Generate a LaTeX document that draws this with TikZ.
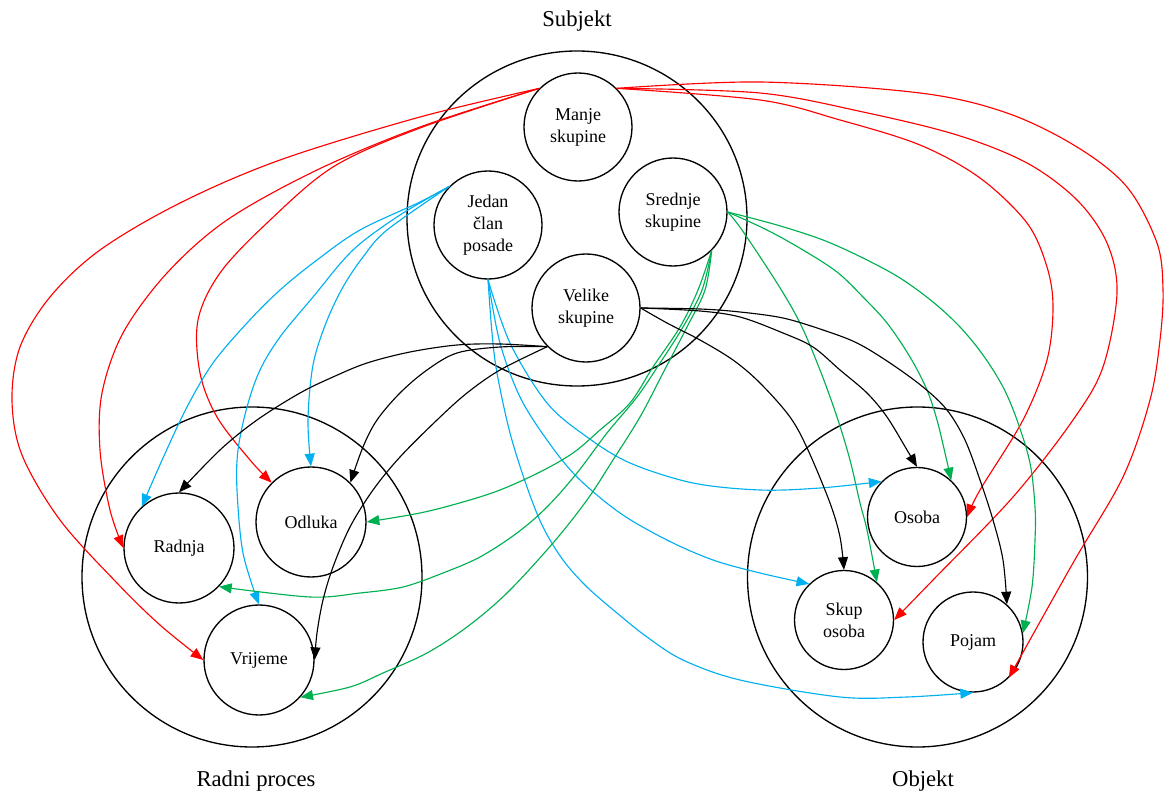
\documentclass[tikz,border=0pt]{standalone}
\usepackage{fontspec}
\setmainfont{Liberation Serif}
\usetikzlibrary{arrows.meta,shapes.geometric}
\definecolor{eRed}{RGB}{255,0,0}
\definecolor{eBlue}{RGB}{0,176,240}
\definecolor{eGreen}{RGB}{0,176,80}
\begin{document}
\begin{tikzpicture}[x=0.75pt,y=-0.75pt,
  bigc/.style={draw,line width=1pt,inner sep=0pt},
  sm/.style={draw,circle,line width=1pt,inner sep=0pt,align=center,font=\fontsize{13.5}{16.5}\selectfont},
  lab/.style={font=\fontsize{17}{20}\selectfont,anchor=base},
  edge/.style={line width=0.85pt,-{Triangle[length=9.5pt,width=7.5pt]}},
  redE/.style={edge,draw=eRed},
  blueE/.style={edge,draw=eBlue},
  greenE/.style={edge,draw=eGreen},
  blackE/.style={edge,draw=black},
  sp/.style={smooth,tension=0.55}
]
\useasboundingbox (0,0) rectangle (1164,798);

% clusters
\node[bigc,ellipse,minimum width=255pt,minimum height=251.25pt] (subj) at (577,218.5) {};
\node[bigc,circle,minimum size=255pt] (radni) at (252,577) {};
\node[bigc,circle,minimum size=255pt] (obj) at (917.5,577) {};

\node[lab] (lsubj) at (577,27) {Subjekt};
\node[lab] (lradni) at (256,786.5) {Radni proces};
\node[lab] (lobj) at (923,786.5) {Objekt};

% nodes
\node[sm,minimum size=81pt] (manje) at (578,127) {Manje\\skupine};
\node[sm,minimum size=81pt] (jedan) at (488,225) {Jedan\\član\\posade};
\node[sm,minimum size=81pt] (srednje) at (673,212) {Srednje\\skupine};
\node[sm,minimum size=81pt] (velike) at (586,308) {Velike\\skupine};
\node[sm,minimum size=82.5pt] (radnja) at (179,548) {Radnja};
\node[sm,minimum size=82.5pt] (odluka) at (311,522) {Odluka};
\node[sm,minimum size=82.5pt] (vrijeme) at (259,660) {Vrijeme};
\node[sm,minimum size=74.25pt] (osoba) at (917,517) {Osoba};
\node[sm,minimum size=74.25pt] (skup) at (844,620) {Skup\\osoba};
\node[sm,minimum size=75pt] (pojam) at (973,642) {Pojam};

% red: Manje skupine
\draw[redE] plot[sp] coordinates {(manje.135) (420,117) (280,160) (180,203) (100,250) (50,297) (20,347) (12,400) (22,455) (60,520) (117,583) (160,625) (vrijeme.west)};
\draw[redE] plot[sp] coordinates {(manje.135) (420,127) (317,170) (227,220) (167,273) (123,333) (102,393) (100,450) (110,510) (radnja.west)};
\draw[redE] plot[sp] coordinates {(manje.135) (420,128) (333,167) (267,223) (220,273) (198,320) (200,373) (217,417) (250,460) (odluka.135)};
\draw[redE] plot[sp] coordinates {(manje.45) (760,82) (920,93) (1007,113) (1077,147) (1127,187) (1157,243) (1163,290) (1160,340) (1150,400) (1123,477) (1073,563) (pojam.315)};
\draw[redE] plot[sp] coordinates {(manje.45) (760,93) (863,112) (957,135) (1027,163) (1077,200) (1107,243) (1117,293) (1103,367) (1073,420) (1013,497) (933,580) (skup.east)};
\draw[redE] plot[sp] coordinates {(manje.45) (760,100) (840,120) (920,145) (980,178) (1027,223) (1047,267) (1053,307) (1047,360) (1023,420) (980,490) (osoba.east)};

% blue: Jedan clan posade
\draw[blueE] plot[sp] coordinates {(jedan.135) (420,202) (360,230) (317,260) (280,290) (247,323) (213,363) (187,407) (163,458) (radnja.132)};
\draw[blueE] plot[sp] coordinates {(jedan.135) (400,215) (353,250) (313,297) (280,337) (260,370) (247,407) (238,450) (237,490) (243,553) (vrijeme.north)};
\draw[blueE] plot[sp] coordinates {(jedan.135) (387,230) (363,257) (343,287) (326,323) (313,365) (308,420) (odluka.north)};
\draw[blueE] plot[sp] coordinates {(jedan.south) (492,333) (497,373) (510,433) (527,487) (543,527) (563,560) (587,587) (617,613) (647,637) (683,660) (740,680) (840,697) (907,697) (pojam.south)};
\draw[blueE] plot[sp] coordinates {(jedan.south) (500,343) (520,397) (547,440) (577,477) (620,513) (667,540) (713,560) (760,573) (skup.134)};
\draw[blueE] plot[sp] coordinates {(jedan.south) (510,343) (547,403) (587,437) (630,463) (693,483) (760,490) (820,488) (osoba.135)};

% green: Srednje skupine
\draw[greenE] plot[sp] coordinates {(srednje.east) (777,225) (823,240) (863,258) (900,278) (933,302) (960,327) (983,355) (1003,387) (1017,420) (1030,463) (1035,507) (1035,540) (1032,587) (pojam.10)};
\draw[greenE] plot[sp] coordinates {(srednje.east) (767,230) (803,250) (837,272) (863,297) (887,323) (910,357) (927,390) (937,420) (945,453) (osoba.47)};
\draw[greenE] plot[sp] coordinates {(srednje.east) (742,230) (777,283) (800,323) (820,370) (837,417) (850,460) (860,503) (867,530) (skup.49)};
\draw[greenE] plot[sp] coordinates {(srednje.315) (698,290) (680,327) (653,367) (630,403) (600,430) (573,453) (540,472) (500,490) (463,502) (420,513) (odluka.east)};
\draw[greenE] plot[sp] coordinates {(srednje.315) (702,290) (683,327) (660,363) (637,397) (607,433) (577,473) (547,507) (517,533) (480,557) (443,573) (403,587) (360,593) (310,597) (radnja.316)};
\draw[greenE] plot[sp] coordinates {(srednje.315) (705,290) (687,327) (663,373) (640,417) (613,460) (587,500) (553,543) (507,593) (467,627) (427,653) (383,673) (350,687) (vrijeme.318)};

% black: Velike skupine
\draw[blackE] plot[sp] coordinates {(velike.225) (500,344) (457,345) (410,352) (367,363) (333,377) (300,393) (257,420) (220,450) (radnja.north)};
\draw[blackE] plot[sp] coordinates {(velike.225) (500,347) (457,353) (427,370) (400,393) (377,420) (363,447) (odluka.45)};
\draw[blackE] plot[sp] coordinates {(velike.225) (500,370) (467,393) (437,420) (400,457) (373,490) (350,527) (333,567) (323,600) (317,633) (vrijeme.east)};
\draw[blackE] plot[sp] coordinates {(velike.east) (667,323) (700,340) (733,360) (760,383) (790,417) (808,450) (830,503) (840,537) (skup.north)};
\draw[blackE] plot[sp] coordinates {(velike.east) (700,311) (740,317) (783,333) (813,347) (840,370) (867,393) (887,417) (907,450) (osoba.north)};
\draw[blackE] plot[sp] coordinates {(velike.east) (700,309) (740,312) (783,318) (823,330) (857,343) (890,363) (923,387) (947,410) (965,440) (980,480) (993,520) (1003,560) (pojam.48)};
\end{tikzpicture}
\end{document}
